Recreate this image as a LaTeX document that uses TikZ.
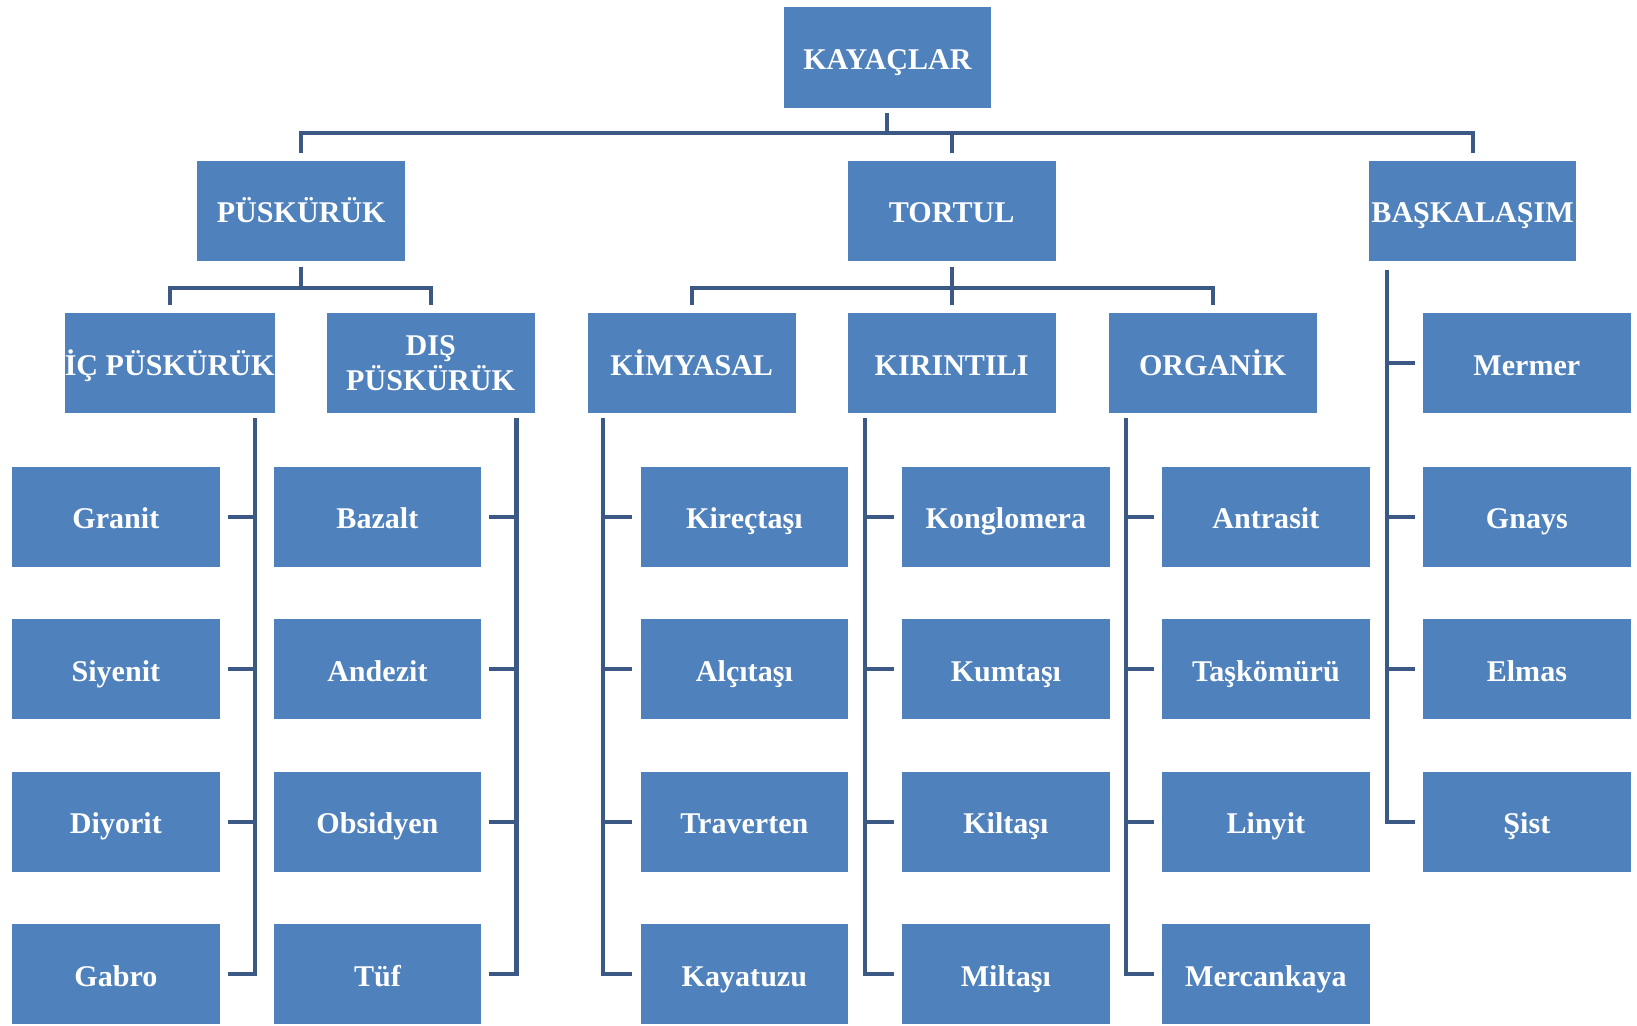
\documentclass[tikz,border=0pt]{standalone}
\usepackage{fontspec}
\setmainfont{Liberation Serif}
\usetikzlibrary{calc}

\definecolor{kutumavi}{RGB}{79,129,189}
\definecolor{cizgi}{RGB}{60,88,132}

\begin{document}
\begin{tikzpicture}[x=1cm,y=1cm,
  kututaban/.style={fill=kutumavi, text=white, minimum width=1.99cm, minimum height=0.96cm,
    inner sep=0pt, align=center, font=\fontsize{8.2}{8.4}\selectfont\bfseries},
  kutu/.style={kututaban, text height=0.66em, text depth=0pt},
  bag/.style={draw=cizgi, line width=1.1pt, shorten >=0.07cm}]

  % sınır
  \useasboundingbox (0,0) rectangle (15.68,-9.82);

  % kök
  \node[kutu] (kayaclar) at (8.50,-0.55) {KAYAÇLAR};

  % 1. seviye
  \def\ybir{-2.02}
  \node[kutu] (puskuruk) at (2.885,\ybir) {PÜSKÜRÜK};
  \node[kutu] (tortul) at (9.115,\ybir) {TORTUL};
  \node[kutu] (baskalasim) at (14.105,\ybir) {BAŞKALAŞIM};

  % 2. seviye
  \def\yiki{-3.48}
  \node[kutu] (ic) at (1.625,\yiki) {İÇ PÜSKÜRÜK};
  \node[kututaban] (dis) at (4.125,\yiki) {DIŞ\\PÜSKÜRÜK};
  \node[kutu] (kimyasal) at (6.625,\yiki) {KİMYASAL};
  \node[kutu] (kirintili) at (9.115,\yiki) {KIRINTILI};
  \node[kutu] (organik) at (11.615,\yiki) {ORGANİK};
  \node[kutu] (mermer) at (14.625,\yiki) {Mermer};

  % yapraklar
  \foreach \ad/\yazi [count=\i] in {granit/Granit, siyenit/Siyenit, diyorit/Diyorit, gabro/Gabro}
    \node[kutu] (\ad) at (1.11,-3.49-1.46*\i) {\yazi};
  \foreach \ad/\yazi [count=\i] in {bazalt/Bazalt, andezit/Andezit, obsidyen/Obsidyen, tuf/Tüf}
    \node[kutu] (\ad) at (3.615,-3.49-1.46*\i) {\yazi};
  \foreach \ad/\yazi [count=\i] in {kirectasi/Kireçtaşı, alcitasi/Alçıtaşı, traverten/Traverten, kayatuzu/Kayatuzu}
    \node[kutu] (\ad) at (7.13,-3.49-1.46*\i) {\yazi};
  \foreach \ad/\yazi [count=\i] in {konglomera/Konglomera, kumtasi/Kumtaşı, kiltasi/Kiltaşı, miltasi/Miltaşı}
    \node[kutu] (\ad) at (9.635,-3.49-1.46*\i) {\yazi};
  \foreach \ad/\yazi [count=\i] in {antrasit/Antrasit, taskomuru/Taşkömürü, linyit/Linyit, mercankaya/Mercankaya}
    \node[kutu] (\ad) at (12.125,-3.49-1.46*\i) {\yazi};
  \foreach \ad/\yazi [count=\i] in {gnays/Gnays, elmas/Elmas, sist/Şist}
    \node[kutu] (\ad) at (14.625,-3.49-1.46*\i) {\yazi};

  % kök -> 1. seviye
  \foreach \cocuk in {puskuruk,tortul,baskalasim}
    \draw[bag] ([yshift=-0.05cm]kayaclar.south) -- ++(0,-0.19) -| (\cocuk.north);
  % 1. seviye -> 2. seviye
  \foreach \cocuk in {ic,dis}
    \draw[bag] ([yshift=-0.05cm]puskuruk.south) -- ++(0,-0.20) -| (\cocuk.north);
  \foreach \cocuk in {kimyasal,kirintili,organik}
    \draw[bag] ([yshift=-0.05cm]tortul.south) -- ++(0,-0.20) -| (\cocuk.north);

  % dikey çizgiler
  \coordinate (icx) at ([xshift=-0.19cm,yshift=-0.04cm]ic.south east);
  \coordinate (disx) at ([xshift=-0.18cm,yshift=-0.04cm]dis.south east);
  \coordinate (kimx) at ([xshift=0.15cm,yshift=-0.04cm]kimyasal.south west);
  \coordinate (kirx) at ([xshift=0.17cm,yshift=-0.04cm]kirintili.south west);
  \coordinate (orgx) at ([xshift=0.17cm,yshift=-0.04cm]organik.south west);
  \coordinate (baskx) at ([xshift=0.18cm,yshift=-0.08cm]baskalasim.south west);

  \draw[bag] (icx) |- (gabro.east);
  \draw[bag] (disx) |- (tuf.east);
  \draw[bag] (kimx) |- (kayatuzu.west);
  \draw[bag] (kirx) |- (miltasi.west);
  \draw[bag] (orgx) |- (mercankaya.west);
  \draw[bag] (baskx) |- (sist.west);

  % kısa bağlar
  \foreach \ad in {granit,siyenit,diyorit}
    \draw[bag] (icx |- \ad.east) -- (\ad.east);
  \foreach \ad in {bazalt,andezit,obsidyen}
    \draw[bag] (disx |- \ad.east) -- (\ad.east);
  \foreach \ad in {kirectasi,alcitasi,traverten}
    \draw[bag] (kimx |- \ad.west) -- (\ad.west);
  \foreach \ad in {konglomera,kumtasi,kiltasi}
    \draw[bag] (kirx |- \ad.west) -- (\ad.west);
  \foreach \ad in {antrasit,taskomuru,linyit}
    \draw[bag] (orgx |- \ad.west) -- (\ad.west);
  \foreach \ad in {mermer,gnays,elmas}
    \draw[bag] (baskx |- \ad.west) -- (\ad.west);

\end{tikzpicture}
\end{document}
